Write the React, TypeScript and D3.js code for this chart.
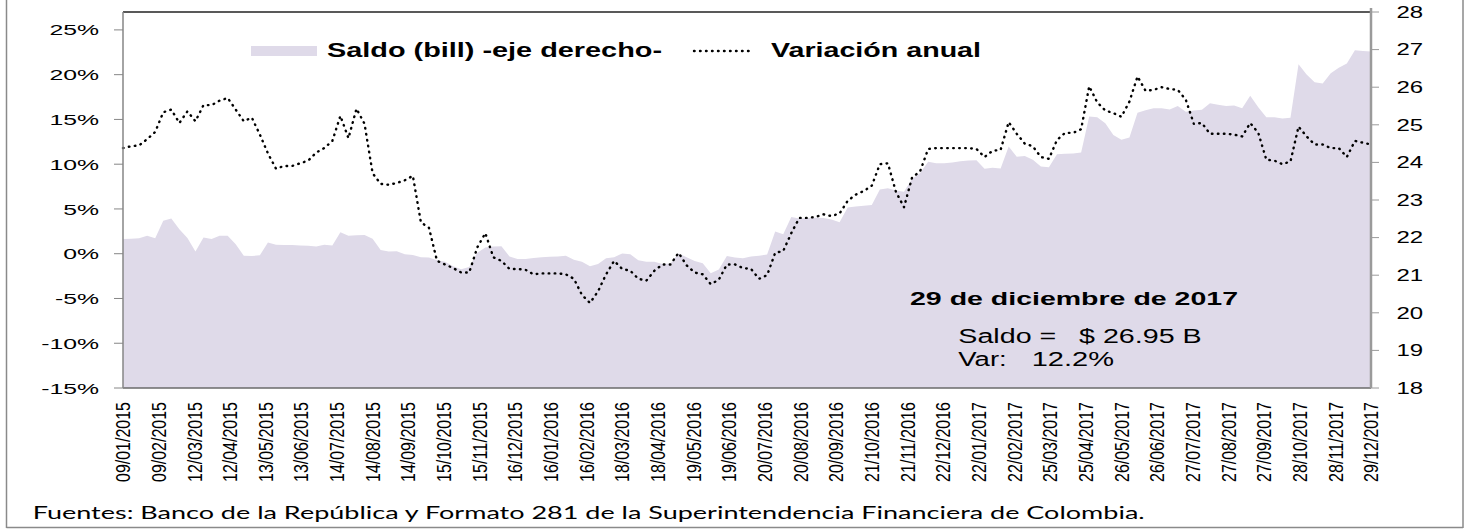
import React from "react";
import * as d3 from "d3";

// Weekly observations (Fridays) starting 09/01/2015
const START_DATE = "09/01/2015";

// Saldo (billones) - right axis
const saldo = [
  21.96, 21.97, 21.98, 22.05, 21.98, 22.45, 22.51, 22.22, 21.99, 21.63,
  22.0, 21.96, 22.05, 22.05, 21.82, 21.52, 21.51, 21.53, 21.87, 21.81,
  21.8, 21.8, 21.79, 21.78, 21.76, 21.81, 21.79, 22.14, 22.05, 22.06,
  22.07, 21.97, 21.67, 21.63, 21.64, 21.56, 21.54, 21.48, 21.47, 21.4,
  21.36, 21.24, 21.16, 21.22, 21.6, 21.74, 21.76, 21.77, 21.5, 21.43,
  21.43, 21.46, 21.48, 21.49, 21.5, 21.52, 21.41, 21.36, 21.24, 21.3,
  21.45, 21.48, 21.58, 21.56, 21.4, 21.36, 21.36, 21.3, 21.31, 21.58,
  21.48, 21.38, 21.32, 21.05, 21.15, 21.51, 21.47, 21.45, 21.5, 21.52,
  21.55, 22.16, 22.09, 22.55, 22.51, 22.52, 22.53, 22.52, 22.48, 22.41,
  22.8, 22.83, 22.85, 22.87, 23.28, 23.31, 23.25, 23.22, 23.56, 23.72,
  24.02, 23.98, 23.98, 24.0, 24.03, 24.05, 24.06, 23.83, 23.86, 23.84,
  24.42, 24.15, 24.17, 24.07, 23.89, 23.87, 24.22, 24.23, 24.24, 24.26,
  25.22, 25.2, 25.04, 24.73, 24.6, 24.66, 25.32, 25.39, 25.44, 25.44,
  25.41, 25.5, 25.35, 25.38, 25.4, 25.57, 25.53, 25.5, 25.51, 25.44,
  25.77, 25.47, 25.2, 25.2, 25.17, 25.19, 26.61, 26.34, 26.13, 26.1,
  26.37, 26.52, 26.63, 26.98, 26.96, 26.95,
];

// Variación anual (%) - left axis
const variacion = [
  11.8, 12.0, 12.1, 12.8, 13.6, 15.8, 16.1, 14.6, 15.9, 14.8,
  16.6, 16.6, 17.1, 17.4, 16.1, 14.8, 15.2, 13.3, 11.2, 9.5,
  9.8, 9.8, 10.1, 10.4, 11.3, 11.8, 12.6, 15.4, 12.9, 16.2,
  14.5, 9.0, 7.8, 7.7, 7.9, 8.2, 8.7, 3.5, 2.9, -0.8,
  -1.2, -1.6, -2.1, -2.1, 0.7, 2.3, -0.4, -0.8, -1.7, -1.7,
  -1.8, -2.3, -2.2, -2.2, -2.2, -2.3, -2.8, -4.6, -5.5, -4.2,
  -2.3, -0.8, -1.7, -1.9, -2.8, -3.0, -1.9, -1.2, -1.2, 0.1,
  -1.3, -2.1, -2.3, -3.4, -2.9, -1.2, -1.2, -1.6, -1.7, -2.8,
  -2.4, 0.1, 0.3, 2.3, 4.0, 4.0, 4.1, 4.4, 4.2, 4.5,
  5.9, 6.6, 7.0, 7.6, 10.0, 10.1, 6.9, 5.2, 8.5, 9.2,
  11.7, 11.8, 11.8, 11.8, 11.8, 11.8, 11.7, 10.8, 11.5, 11.6,
  14.7, 13.4, 12.3, 12.0, 10.8, 10.6, 12.7, 13.5, 13.5, 13.9,
  18.7, 16.9, 16.0, 15.7, 15.3, 17.0, 19.8, 18.2, 18.3, 18.6,
  18.4, 18.3, 17.2, 14.5, 14.6, 13.4, 13.4, 13.4, 13.3, 13.1,
  14.6, 13.5, 10.5, 10.4, 10.0, 10.3, 14.2, 13.1, 12.2, 12.2,
  11.8, 11.8, 10.8, 12.6, 12.4, 12.2,
];

const xLabels = [
  "09/01/2015", "09/02/2015", "12/03/2015", "12/04/2015", "13/05/2015", "13/06/2015",
  "14/07/2015", "14/08/2015", "14/09/2015", "15/10/2015", "15/11/2015", "16/12/2015",
  "16/01/2016", "16/02/2016", "18/03/2016", "18/04/2016", "19/05/2016", "19/06/2016",
  "20/07/2016", "20/08/2016", "20/09/2016", "21/10/2016", "21/11/2016", "22/12/2016",
  "22/01/2017", "22/02/2017", "25/03/2017", "25/04/2017", "26/05/2017", "26/06/2017",
  "27/07/2017", "27/08/2017", "27/09/2017", "28/10/2017", "28/11/2017", "29/12/2017",
];

const leftTicks = [-15, -10, -5, 0, 5, 10, 15, 20, 25];
const rightTicks = [18, 19, 20, 21, 22, 23, 24, 25, 26, 27, 28];

const legendSaldo = "Saldo (bill) -eje derecho-";
const legendVar = "Variación anual";
const annotDate = "29 de diciembre de 2017";
const annotSaldoLabel = "Saldo =";
const annotSaldoValue = "$ 26.95 B";
const annotVarLabel = "Var:";
const annotVarValue = "12.2%";
const footer =
  "Fuentes: Banco de la República y Formato 281 de la Superintendencia Financiera de Colombia.";

const W = 1480;
const H = 529;
const PL = 123;
const PR = 1371;
const PT = 12;
const PB = 388;
const FONT = "'Liberation Sans', Arial, sans-serif";
const AREA_FILL = "#DFDAE9";

export default function App() {
  const parse = d3.timeParse("%d/%m/%Y");
  const start = parse(START_DATE) as Date;
  const dates = saldo.map((_, i) => d3.timeDay.offset(start, i * 7));
  const labelDates = xLabels.map((s) => parse(s) as Date);

  const x = d3
    .scaleTime()
    .domain([labelDates[0], labelDates[labelDates.length - 1]])
    .range([PL, PR]);
  const yL = d3.scaleLinear().domain([-15, 27]).range([PB, PT]);
  const yR = d3.scaleLinear().domain([18, 28]).range([PB, PT]);

  const areaPath =
    d3
      .area<number>()
      .x((_, i) => x(dates[i]))
      .y0(PB)
      .y1((d) => yR(d))(saldo) || "";

  const linePath =
    d3
      .line<number>()
      .x((_, i) => x(dates[i]))
      .y((d) => yL(d))(variacion) || "";

  return (
    <svg
      width={W}
      height={H}
      style={{ position: "absolute", left: 0, top: 0, background: "#fff" }}
      fontFamily={FONT}
    >
      <rect x={0} y={0} width={W} height={H} fill="#fff" />
      {/* outer frame */}
      <line x1={6.5} y1={0} x2={6.5} y2={528} stroke="#8a8a8a" strokeWidth={1.5} />
      <line x1={1463} y1={0} x2={1463} y2={528} stroke="#8a8a8a" strokeWidth={1.5} />
      <line x1={6.5} y1={527.5} x2={1463} y2={527.5} stroke="#8a8a8a" strokeWidth={1.5} />

      {/* plot area */}
      <rect x={PL} y={PT} width={PR - PL} height={PB - PT} fill="#fff" />
      <path d={areaPath} fill={AREA_FILL} />
      <path
        d={linePath}
        fill="none"
        stroke="#000"
        strokeWidth={2.4}
        strokeDasharray="0.6 5.4"
        strokeLinecap="round"
        strokeLinejoin="round"
      />

      {/* borders */}
      <line x1={PL} y1={PT} x2={PR} y2={PT} stroke="#595959" strokeWidth={2} />
      <line x1={PL} y1={PB} x2={PR} y2={PB} stroke="#6a6a6a" strokeWidth={1.5} />
      <line x1={PL} y1={PT} x2={PL} y2={PB} stroke="#868686" strokeWidth={1.5} />
      <line x1={PR} y1={PT - 4} x2={PR} y2={PB} stroke="#9a9a9a" strokeWidth={2.5} />

      {/* left axis */}
      {leftTicks.map((t) => (
        <g key={"l" + t}>
          <line x1={114} x2={PL} y1={yL(t)} y2={yL(t)} stroke="#868686" strokeWidth={1} />
          <text
            transform={`translate(99,${yL(t)}) scale(1.6,1)`}
            textAnchor="end"
            dy="0.36em"
            fontSize={15.5}
            fill="#000"
          >
            {t + "%"}
          </text>
        </g>
      ))}

      {/* right axis */}
      {rightTicks.map((t) => (
        <g key={"r" + t}>
          <line x1={PR} x2={1379} y1={yR(t)} y2={yR(t)} stroke="#9a9a9a" strokeWidth={1} />
          <text
            transform={`translate(1396.5,${yR(t)}) scale(1.5,1)`}
            textAnchor="start"
            dy="0.36em"
            fontSize={16}
            fill="#000"
          >
            {t}
          </text>
        </g>
      ))}

      {/* x labels */}
      {xLabels.map((s, i) => (
        <text
          key={s}
          transform={`translate(${x(labelDates[i])},402) rotate(-90)`}
          textAnchor="end"
          dy="0.36em"
          fontSize={20}
          textLength={80}
          lengthAdjust="spacingAndGlyphs"
          fill="#000"
        >
          {s}
        </text>
      ))}

      {/* legend */}
      <rect x={251} y={46} width={66} height={10} fill={AREA_FILL} />
      <text
        x={327}
        y={57.3}
        fontSize={21}
        fontWeight="bold"
        textLength={335}
        lengthAdjust="spacingAndGlyphs"
      >
        {legendSaldo}
      </text>
      <line
        x1={694}
        x2={754}
        y1={51}
        y2={51}
        stroke="#000"
        strokeWidth={2.4}
        strokeDasharray="0.6 5.4"
        strokeLinecap="round"
      />
      <text
        x={771}
        y={57.3}
        fontSize={21}
        fontWeight="bold"
        textLength={210}
        lengthAdjust="spacingAndGlyphs"
      >
        {legendVar}
      </text>

      {/* annotation */}
      <text
        x={910}
        y={305}
        fontSize={18}
        fontWeight="bold"
        textLength={328}
        lengthAdjust="spacingAndGlyphs"
      >
        {annotDate}
      </text>
      <text x={958.3} y={342.7} fontSize={20} textLength={98} lengthAdjust="spacingAndGlyphs">
        {annotSaldoLabel}
      </text>
      <text x={1079} y={342.7} fontSize={20} textLength={122.7} lengthAdjust="spacingAndGlyphs">
        {annotSaldoValue}
      </text>
      <text x={958.3} y={366} fontSize={20} textLength={48.4} lengthAdjust="spacingAndGlyphs">
        {annotVarLabel}
      </text>
      <text x={1031.7} y={366} fontSize={20} textLength={82.3} lengthAdjust="spacingAndGlyphs">
        {annotVarValue}
      </text>

      {/* footer */}
      <text
        x={32.7}
        y={519.3}
        fontFamily="Lato, 'Open Sans', sans-serif"
        fontSize={17.5}
        textLength={1112}
        lengthAdjust="spacingAndGlyphs"
        fill="#000"
      >
        {footer}
      </text>
    </svg>
  );
}
